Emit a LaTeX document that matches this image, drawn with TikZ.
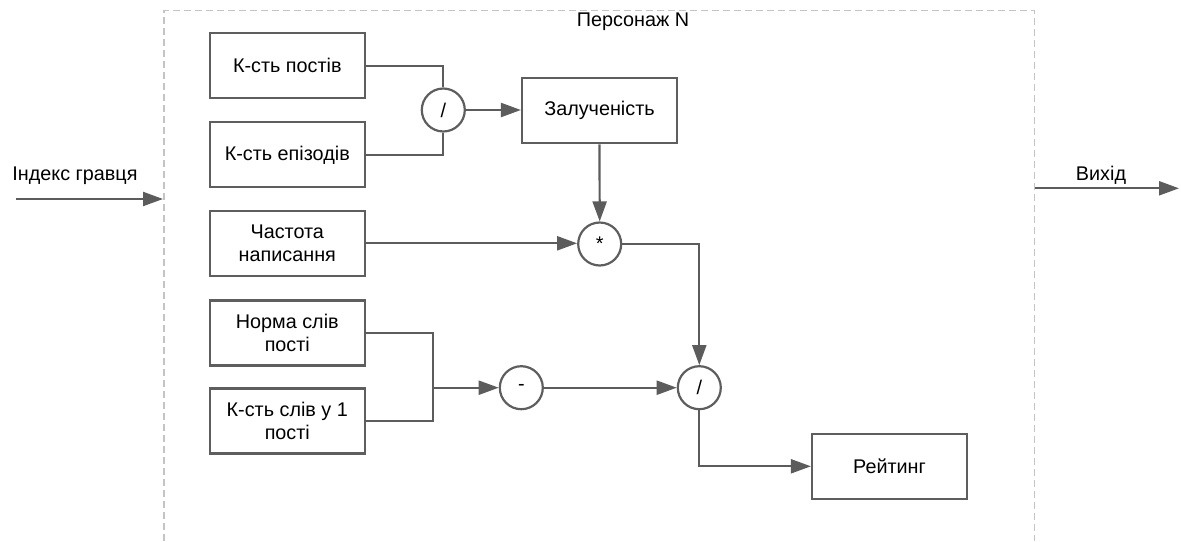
\documentclass[tikz,border=0pt]{standalone}
\usepackage{fontspec}
\setmainfont{Liberation Sans}
\usetikzlibrary{arrows.meta}
\definecolor{linec}{HTML}{5C5C5C}
\definecolor{boxc}{HTML}{5E5E5E}
\definecolor{dashc}{HTML}{C4C4C4}
\tikzset{
  blk/.style={draw=boxc, line width=2.2pt, minimum width=155pt, minimum height=65pt, align=center, inner sep=2pt, font=\fontsize{19.8}{23}\selectfont},
  op/.style={draw=boxc, line width=2.2pt, circle, minimum size=43pt, inner sep=0pt, font=\fontsize{19.8}{23}\selectfont},
  wire/.style={draw=linec, line width=2.2pt},
  arr/.style={wire, -{Triangle[length=20pt,width=14pt]}},
  lbl/.style={font=\fontsize{19.8}{23}\selectfont, inner sep=0pt},
  frame/.style={draw=dashc, line width=1.5pt, dash pattern=on 7pt off 4pt}
}
\begin{document}
\begin{tikzpicture}[x=1pt,y=-1pt]
\useasboundingbox (0,0) rectangle (1181,541);
% frame
\draw[frame] (164,541) -- (164,10.7) -- (1034.7,10.7) -- (1034.7,541);
\node[lbl] (title) at (633,22) {Персонаж N};
% blocks
\node[blk] (posts) at (287.3,65.7) {К-сть постів};
\node[blk] (eps) at (287.3,154.8) {К-сть епізодів};
\node[blk] (freq) at (287.3,243.3) {Частота\\написання};
\node[blk] (norm) at (287.3,333) {Норма слів\\пості};
\node[blk] (words) at (287.3,421) {К-сть слів у 1\\пості};
\node[blk] (zal) at (599.5,110.7) {Залученість};
\node[blk] (rate) at (889.5,466.3) {Рейтинг};
% operators
\node[op] (div1) at (443.3,110) {/};
\node[op] (mul) at (599.7,244) {*};
\node[op] (sub) at (521.3,387.7) {-};
\node[op] (div2) at (699.3,387.7) {/};
\coordinate (join) at (432.7,387.7);
% wires
\draw[wire] (posts.east) -| (div1.north);
\draw[wire] (eps.east) -| (div1.south);
\draw[arr] (div1.east) -- (div1.east -| zal.west);
\draw[arr] (zal.south) -- (mul.north);
\draw[arr] (freq.east) -- (freq.east -| mul.west);
\draw[arr] (mul.east) -| (div2.north);
\draw[wire] (norm.east) -| (join);
\draw[wire] (words.east) -| (join);
\draw[arr] (join) -- (sub.west);
\draw[arr] (sub.east) -- (div2.west);
\draw[arr] (div2.south) |- (rate.west);
% input / output
\coordinate (inS) at (15.7,199);
\coordinate (inE) at (163,199);
\draw[arr] (inS) -- (inE);
\node[lbl] (inlbl) at (75,176) {Індекс гравця};
\coordinate (outS) at (1035,188.3);
\coordinate (outE) at (1179,188.3);
\draw[arr] (outS) -- (outE);
\node[lbl] (outlbl) at (1101,175) {Вихід};
\end{tikzpicture}
\end{document}
